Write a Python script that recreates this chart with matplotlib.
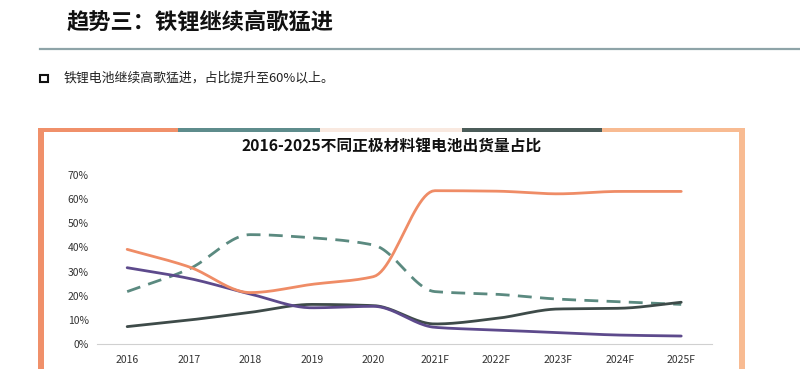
import numpy as np
import matplotlib
matplotlib.use("Agg")
from matplotlib import pyplot as plt
from matplotlib.patches import Rectangle
from matplotlib.ticker import FuncFormatter

plt.rcParams['font.family'] = ['Noto Sans CJK SC', 'DejaVu Sans']

years = ["2016", "2017", "2018", "2019", "2020", "2021F", "2022F", "2023F", "2024F", "2025F"]
lfp = [39.2, 32.0, 21.3, 24.7, 27.9, 63.5, 63.3, 62.2, 63.2, 63.2]
ncm_dashed = [21.7, 31.0, 45.3, 44.0, 41.0, 21.7, 20.6, 18.6, 17.5, 16.4]
slate = [7.2, 9.9, 13.1, 16.4, 15.9, 8.3, 10.6, 14.5, 14.8, 17.3]
purple = [31.6, 27.2, 20.7, 15.0, 15.6, 6.9, 5.8, 4.7, 3.7, 3.3]

W, H = 800, 369


def smooth(xs, ys, n=24):
    # monotone cubic (fritsch-carlson), no overshoot at the 2021 jump
    xs = np.asarray(xs, float)
    ys = np.asarray(ys, float)
    d = np.diff(ys) / np.diff(xs)
    m = np.zeros(len(ys))
    for i in range(1, len(ys) - 1):
        if d[i - 1] * d[i] > 0:
            m[i] = 2 / (1 / d[i - 1] + 1 / d[i])
    m[0], m[-1] = d[0], d[-1]
    t = np.linspace(0, 1, n, endpoint=False)
    h00 = 2 * t ** 3 - 3 * t ** 2 + 1
    h10 = t ** 3 - 2 * t ** 2 + t
    h01 = -2 * t ** 3 + 3 * t ** 2
    h11 = t ** 3 - t ** 2
    out_x, out_y = [], []
    for i in range(len(xs) - 1):
        out_x.extend(xs[i] + t * (xs[i + 1] - xs[i]))
        out_y.extend(h00 * ys[i] + h10 * m[i] + h01 * ys[i + 1] + h11 * m[i + 1])
    out_x.append(xs[-1])
    out_y.append(ys[-1])
    return np.array(out_x), np.array(out_y)


def fx(px):
    return px / W


def fy(py):
    return 1 - py / H


fig = plt.figure(figsize=(8, 3.69), dpi=100)
fig.patch.set_facecolor("white")

# page header
fig.text(fx(67), fy(22), "趋势三：铁锂继续高歌猛进", fontsize=16, fontweight="bold",
         va="center", ha="left", color="#111111")
fig.add_artist(plt.Line2D([fx(40), 1], [fy(49), fy(49)], color="#8ea4a8", lw=1.6))
fig.add_artist(Rectangle((fx(40), fy(82)), 8 / W, 7 / H, fill=False, ec="#111111", lw=1.5))
fig.text(fx(64), fy(78), "铁锂电池继续高歌猛进，占比提升至60%以上。", fontsize=9.3,
         va="center", ha="left", color="#222222")

# chart frame
segs = [(38, 178, "#f0906a"), (178, 320, "#5e8c8c"), (320, 462, "#f9e9e0"),
        (462, 602, "#4b5c59"), (602, 745, "#f8bb92")]
for x0, x1, c in segs:
    fig.add_artist(Rectangle((fx(x0), fy(132)), (x1 - x0) / W, 4 / H, color=c, lw=0))
fig.add_artist(Rectangle((fx(38), 0), 6 / W, fy(128), color="#f0906a", lw=0))
fig.add_artist(Rectangle((fx(739), 0), 6 / W, fy(128), color="#f8bb92", lw=0))

fig.text(fx(392), fy(147), "2016-2025不同正极材料锂电池出货量占比", fontsize=11.3,
         fontweight="bold", ha="center", va="center", color="#111111")

ax = fig.add_axes([fx(97), fy(344), (712 - 97) / W, (344 - 175) / H])
x = np.arange(len(years))
for ys, c, ls in ((ncm_dashed, "#5b8a80", (0, (5, 3))), (slate, "#3e4b49", "-"),
                  (purple, "#5d4a8c", "-"), (lfp, "#ef8c66", "-")):
    sx, sy = smooth(x, ys)
    ax.plot(sx, sy, color=c, lw=2, linestyle=ls, solid_capstyle="round")

ax.set_xlim(-0.49, 9.5)
ax.set_ylim(0, 70)
ax.set_yticks(np.arange(0, 71, 10))
ax.yaxis.set_major_formatter(FuncFormatter(lambda v, _: f"{v:.0f}%"))
ax.set_xticks(x)
ax.set_xticklabels(years)
for s in ("top", "left", "right"):
    ax.spines[s].set_visible(False)
ax.spines["bottom"].set_color("#d0d0d0")
ax.tick_params(length=0, labelsize=7.5, colors="#333333")
ax.tick_params(axis="x", pad=8)
ax.tick_params(axis="y", pad=6)

fig.savefig("out.png", dpi=100)
